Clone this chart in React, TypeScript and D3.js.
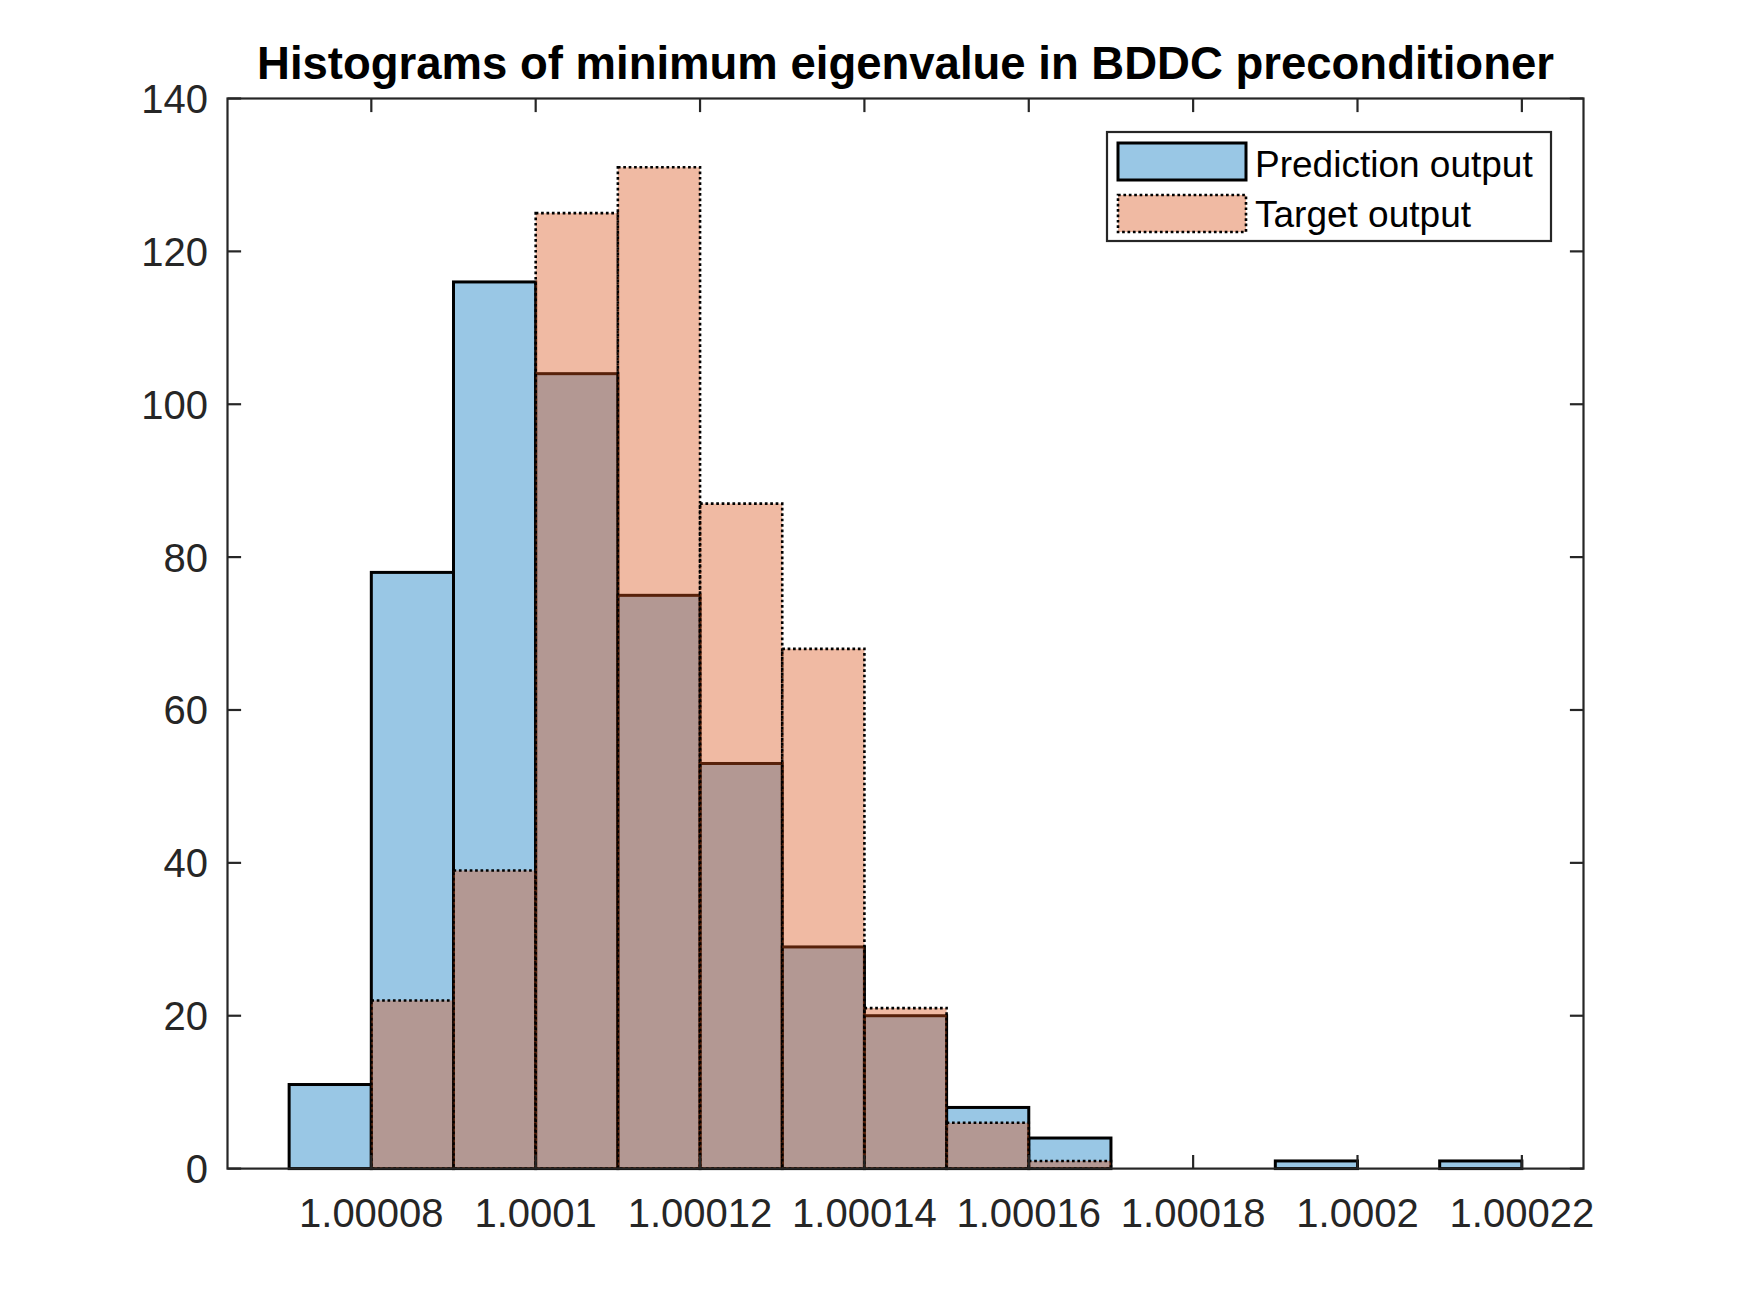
import React from "react";
import * as d3 from "d3";

// ---- Data ----
const binStarts = [
  1.00007, 1.00008, 1.00009, 1.0001, 1.00011, 1.00012, 1.00013, 1.00014,
  1.00015, 1.00016, 1.00017, 1.00018, 1.00019, 1.0002, 1.00021,
];
const binWidth = 0.00001;
const predictionCounts = [11, 78, 116, 104, 75, 53, 29, 20, 8, 4, 0, 0, 1, 0, 1];
const targetCounts = [0, 22, 39, 125, 131, 87, 68, 21, 6, 1, 0, 0, 0, 0, 0];
const xTicks = [1.00008, 1.0001, 1.00012, 1.00014, 1.00016, 1.00018, 1.0002, 1.00022];
const xTickLabels = ["1.00008", "1.0001", "1.00012", "1.00014", "1.00016", "1.00018", "1.0002", "1.00022"];
const yTicks = [0, 20, 40, 60, 80, 100, 120, 140];
const seriesNames = ["Prediction output", "Target output"];
const titleText = "Histograms of minimum eigenvalue in BDDC preconditioner";

// ---- Layout ----
const W = 1750;
const H = 1313;
const L = 227.5;
const R = 1583.5;
const T = 98.5;
const B = 1168.6;
const FONT = "'Liberation Sans', Arial, Helvetica, sans-serif";
const AX = "#262626";
const BLUE = "#0072BD";
const ORANGE = "#D95319";
const TICK = 13.6;

export default function App() {
  const x = d3.scaleLinear().domain([1.0000625, 1.0002275]).range([L, R]);
  const y = d3.scaleLinear().domain([0, 140]).range([B, T]);

  const bars = (counts: number[], color: string, dotted: boolean) =>
    counts.map((c, i) =>
      c > 0 ? (
        <rect
          key={i}
          x={x(binStarts[i])}
          y={y(c)}
          width={x(binStarts[i] + binWidth) - x(binStarts[i])}
          height={y(0) - y(c)}
          fill={color}
          fillOpacity={0.4}
          stroke="#000"
          strokeWidth={dotted ? 2.6 : 3}
          strokeDasharray={dotted ? "2.7 2.7" : undefined}
        />
      ) : null
    );

  return (
    <svg
      width={W}
      height={H}
      style={{ position: "absolute", left: 0, top: 0, background: "#fff" }}
      fontFamily={FONT}
    >
      <rect x={0} y={0} width={W} height={H} fill="#fff" />
      <g>{bars(predictionCounts, BLUE, false)}</g>
      <g>{bars(targetCounts, ORANGE, true)}</g>

      {/* axes box */}
      <rect x={L} y={T} width={R - L} height={B - T} fill="none" stroke={AX} strokeWidth={2.2} />
      {xTicks.map((t, i) => (
        <g key={"xt" + i}>
          <line x1={x(t)} x2={x(t)} y1={B} y2={B - TICK} stroke={AX} strokeWidth={2.2} />
          <line x1={x(t)} x2={x(t)} y1={T} y2={T + TICK} stroke={AX} strokeWidth={2.2} />
          <text x={x(t)} y={1226.7} textAnchor="middle" fontSize={40} fill={AX}>
            {xTickLabels[i]}
          </text>
        </g>
      ))}
      {yTicks.map((t, i) => (
        <g key={"yt" + i}>
          <line x1={L} x2={L + TICK} y1={y(t)} y2={y(t)} stroke={AX} strokeWidth={2.2} />
          <line x1={R} x2={R - TICK} y1={y(t)} y2={y(t)} stroke={AX} strokeWidth={2.2} />
          <text x={208} y={y(t) + 14.4} textAnchor="end" fontSize={40} fill={AX}>
            {t}
          </text>
        </g>
      ))}

      {/* title */}
      <text x={(L + R) / 2} y={79} textAnchor="middle" fontSize={45.5} fontWeight="bold" fill="#000">
        {titleText}
      </text>

      {/* legend */}
      <rect x={1107} y={132} width={444} height={109} fill="#fff" stroke={AX} strokeWidth={2.2} />
      <rect x={1118} y={143} width={128} height={37} fill={BLUE} fillOpacity={0.4} stroke="#000" strokeWidth={3} />
      <rect
        x={1118}
        y={195}
        width={128}
        height={37}
        fill={ORANGE}
        fillOpacity={0.4}
        stroke="#000"
        strokeWidth={2.6}
        strokeDasharray="2.7 2.7"
      />
      <text x={1255} y={176.7} fontSize={37} fill="#000">
        {seriesNames[0]}
      </text>
      <text x={1255} y={226.7} fontSize={37} fill="#000">
        {seriesNames[1]}
      </text>
    </svg>
  );
}
